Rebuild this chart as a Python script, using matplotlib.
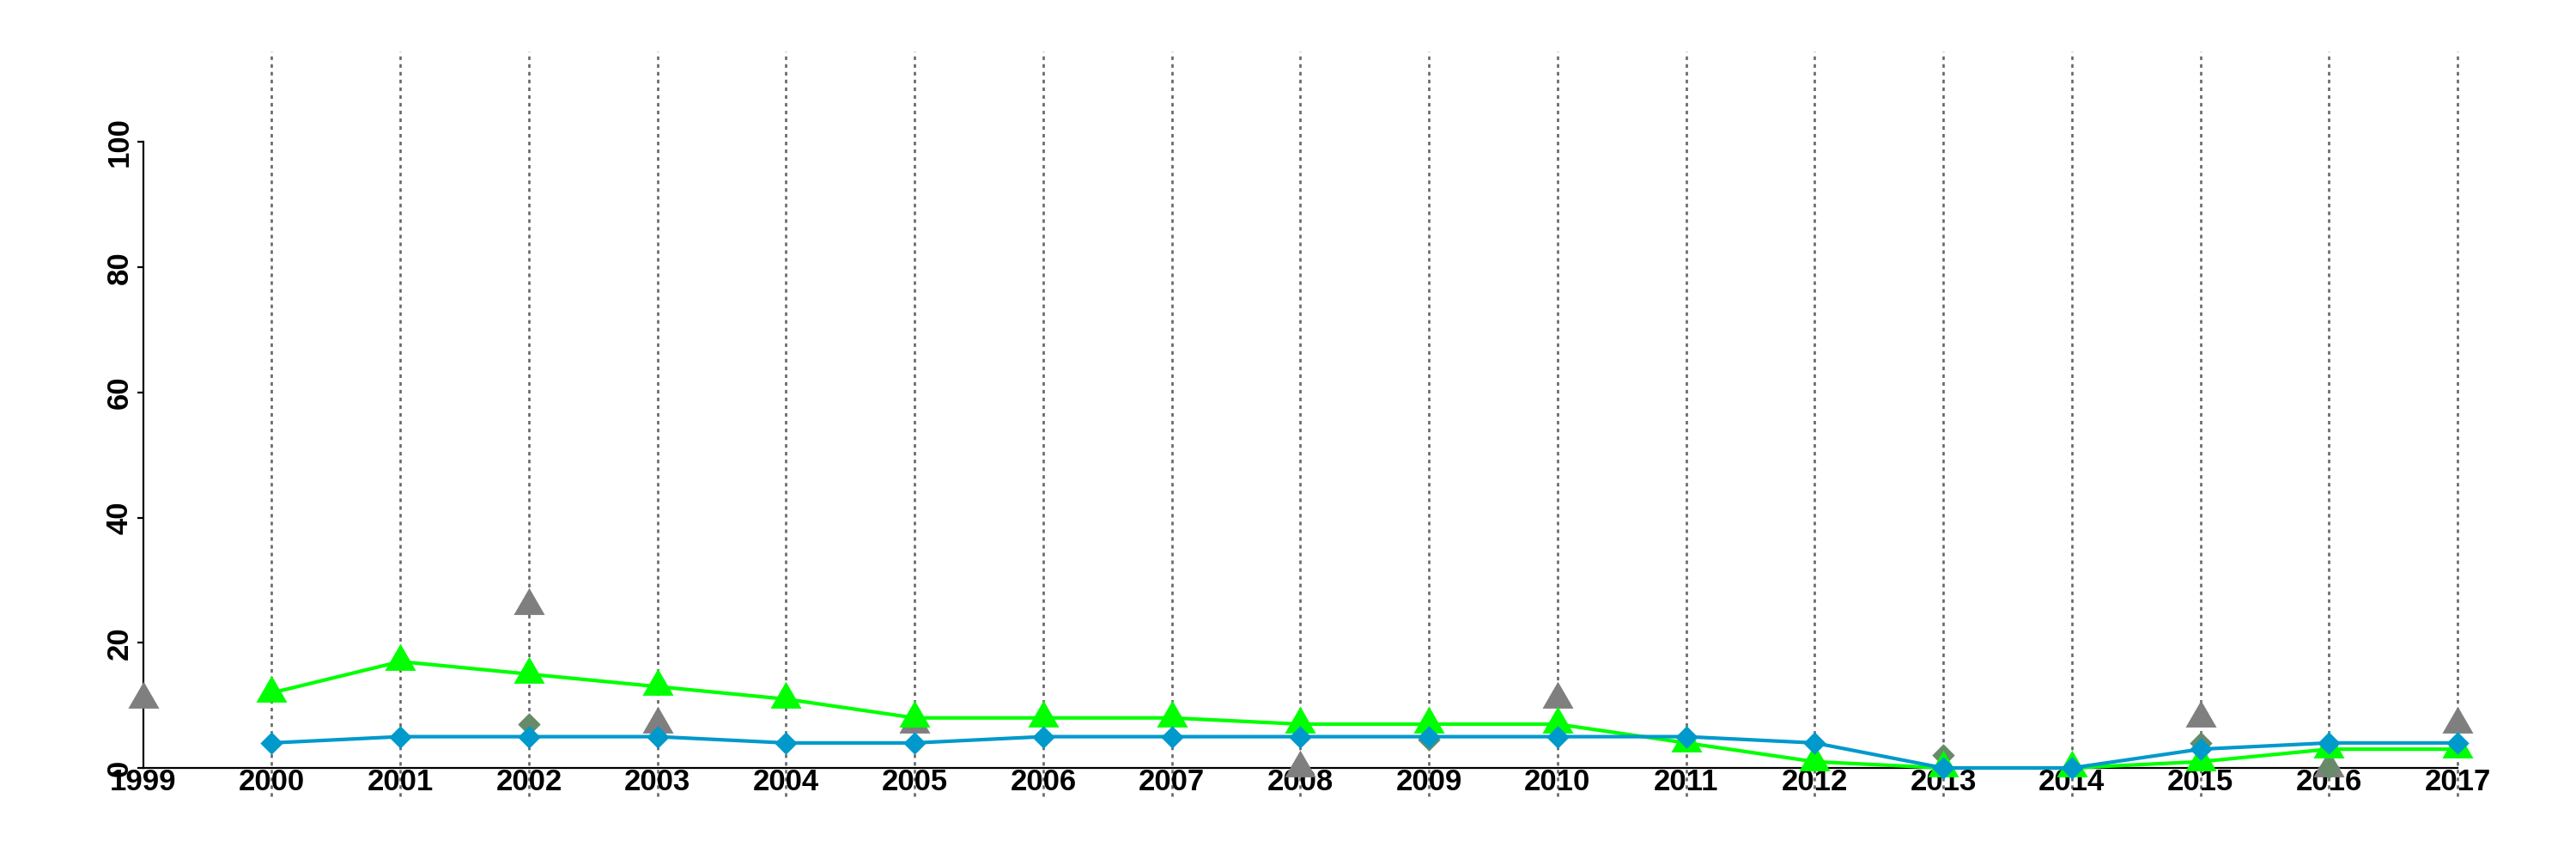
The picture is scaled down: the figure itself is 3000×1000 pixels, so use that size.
import numpy as np
import matplotlib
matplotlib.use("Agg")
import matplotlib.pyplot as plt

plt.rcParams['font.family'] = ['Liberation Sans', 'DejaVu Sans']
plt.rcParams['lines.scale_dashes'] = False

years = list(range(1999, 2018))
year_labels = [str(y) for y in years]
nan = np.nan
green_vals = [nan, 12, 17, 15, 13, 11, 8, 8, 8, 7, 7, 7, 4, 1, 0, 0, 1, 3, 3]
blue_vals = [nan, 4, 5, 5, 5, 4, 4, 5, 5, 5, 5, 5, 5, 4, 0, 0, 3, 4, 4]
grey_tri_vals = [11, nan, nan, 26, 7, nan, 7, nan, nan, 0, nan, 11, nan, nan, nan, nan, 8, 0, 7]
sage_dia_vals = [nan, nan, nan, 7, nan, nan, nan, nan, nan, nan, 4.5, nan, nan, nan, 2, nan, 4, 0, nan]
y_ticks = [0, 20, 40, 60, 80, 100]
vline_years = years[1:]

fig = plt.figure(figsize=(30, 10), dpi=100)
ax = fig.add_axes([0, 0, 1, 1])

px_per_year = 149.74
px_per_unit = 7.285
x0_px, y0_px = 166.7, 894.0
ax.set_xlim(1999 - x0_px / px_per_year, 2017 + (3000 - 2862) / px_per_year)
ax.set_ylim(-(1000 - y0_px) / px_per_unit, y0_px / px_per_unit)

tri = [(0, 1.1547), (-1, -0.57735), (1, -0.57735)]
dia = [(0, 1), (1, 0), (0, -1), (-1, 0)]

ax.vlines(vline_years, -4.5, 114.5, colors='#666666', linewidth=1.9,
          linestyles=[(0, (3.0, 3.5))], zorder=1)

ax.plot(years, grey_tri_vals, linestyle='none', marker=tri, markersize=30,
        color='#7f7f7f', markeredgewidth=0, zorder=3)
ax.plot(years, sage_dia_vals, linestyle='none', marker=dia, markersize=19,
        color='#678a69', markeredgewidth=0, zorder=4)
ax.plot(years, green_vals, '-', color='#00ff00', linewidth=3, marker=tri,
        markersize=30, markeredgewidth=0, zorder=5)
ax.plot(years, blue_vals, '-', color='#0099cc', linewidth=3, marker=dia,
        markersize=19, markeredgewidth=0, zorder=6)

for s in ['top', 'right']:
    ax.spines[s].set_visible(False)
ax.spines['left'].set_position(('data', 1999))
ax.spines['left'].set_bounds(0, 100)
ax.spines['bottom'].set_position(('data', 0))
ax.spines['bottom'].set_bounds(1999, 2017)
for s in ['left', 'bottom']:
    ax.spines[s].set_linewidth(1.6)
    ax.spines[s].set_zorder(2)

ax.set_xticks(years)
ax.set_xticklabels(year_labels, fontsize=25, fontweight='bold')
ax.tick_params(axis='x', length=0, pad=0)
ax.set_yticks(y_ticks)
ax.set_yticklabels([str(v) for v in y_ticks], fontsize=25, fontweight='bold',
                   rotation=90, va='center')
ax.tick_params(axis='y', length=5, width=1.6, pad=3)

fig.savefig('out.png', dpi=100)
